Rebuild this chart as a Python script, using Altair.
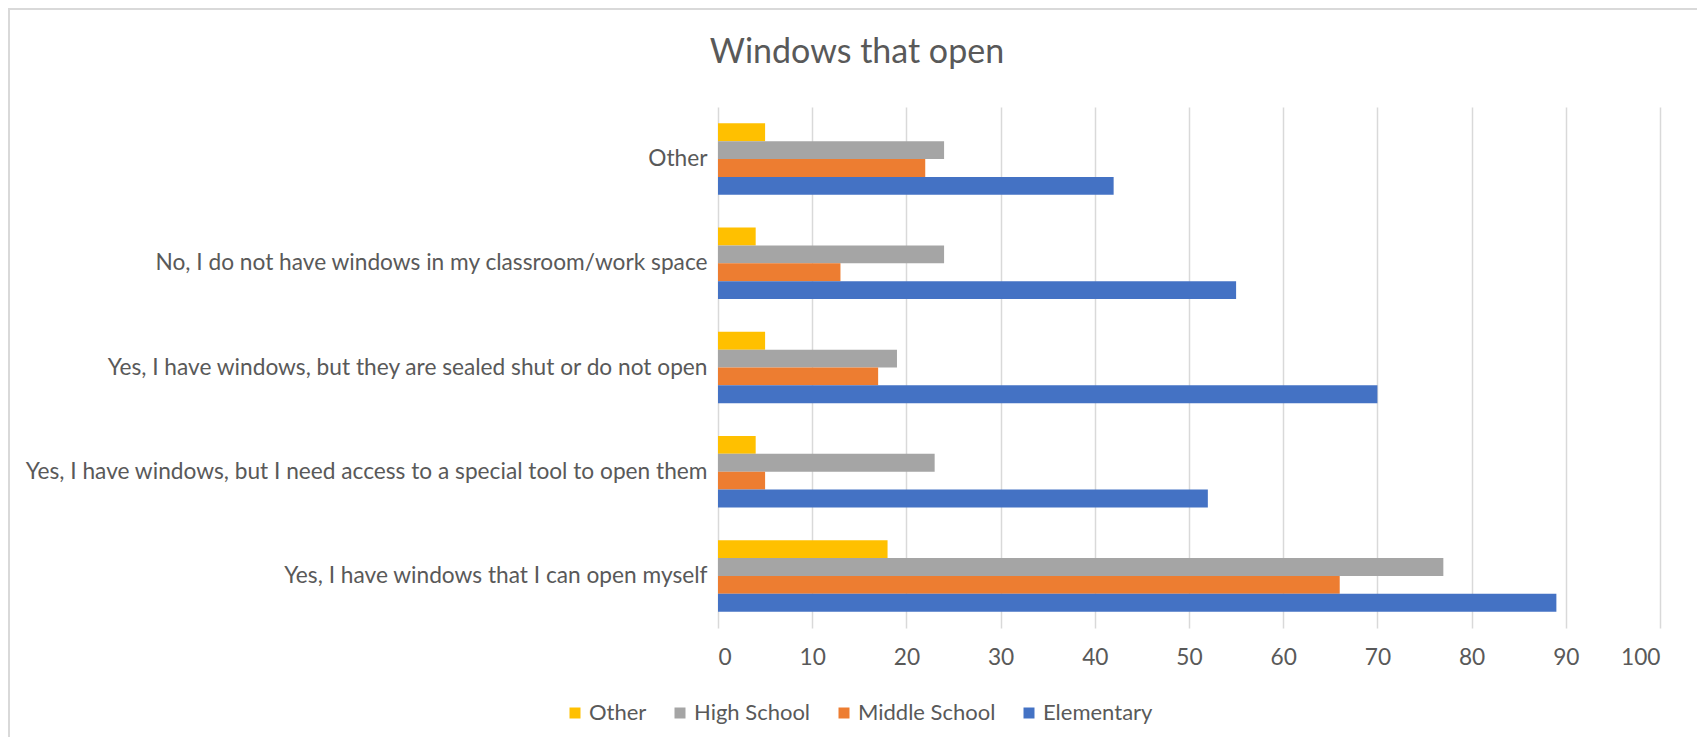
import altair as alt
import pandas as pd

categories = [
    "Other",
    "No, I do not have windows in my classroom/work space",
    "Yes, I have windows, but they are sealed shut or do not open",
    "Yes, I have windows, but I need access to a special tool to open them",
    "Yes, I have windows that I can open myself",
]
series = ["Other", "High School", "Middle School", "Elementary"]
colors = ["#FFC000", "#A5A5A5", "#ED7D31", "#4472C4"]

other_vals = [5, 4, 5, 4, 18]
high_vals = [24, 24, 19, 23, 77]
middle_vals = [22, 13, 17, 5, 66]
elem_vals = [42, 55, 70, 52, 89]

rows = []
for s, vals in zip(series, [other_vals, high_vals, middle_vals, elem_vals]):
    for c, v in zip(categories, vals):
        rows.append({"category": c, "series": s, "value": v})
df = pd.DataFrame(rows)

FONT = "Lato"
TXT = "#595959"
LBL = 22.7

bars = alt.Chart(df).mark_bar().encode(
    y=alt.Y(
        "category:N",
        sort=categories,
        scale=alt.Scale(paddingInner=0.314, paddingOuter=0.157),
        axis=alt.Axis(
            title=None, ticks=False, domain=False, labelFont=FONT,
            labelFontSize=LBL, labelColor=TXT, labelPadding=11, labelLimit=0,
        ),
    ),
    yOffset=alt.YOffset("series:N", sort=series, scale=alt.Scale(paddingInner=0, paddingOuter=0)),
    x=alt.X(
        "value:Q",
        scale=alt.Scale(domain=[0, 100], nice=False),
        axis=alt.Axis(
            title=None, values=list(range(0, 101, 10)), ticks=False, domain=False,
            grid=True, gridColor="#D9D9D9", gridWidth=1.5, labelFont=FONT,
            labelFontSize=LBL, labelColor=TXT, labelPadding=18,
        ),
    ),
    color=alt.Color(
        "series:N",
        sort=series,
        scale=alt.Scale(domain=series, range=colors),
        legend=alt.Legend(
            title=None, orient="none", direction="horizontal", legendX=-154,
            legendY=595, symbolType="square", symbolSize=121, symbolStrokeWidth=0,
            labelFont=FONT, labelFontSize=22, labelColor=TXT, labelOffset=3,
            columnPadding=22, padding=0,
        ),
    ),
)

frame_df = pd.DataFrame({"k": [0]})
left_border = alt.Chart(frame_df).mark_rule(color="#D9D9D9", strokeWidth=2).encode(
    x=alt.value(-709), y=alt.value(-98), y2=alt.value(630)
)
top_border = alt.Chart(frame_df).mark_rule(color="#D9D9D9", strokeWidth=2).encode(
    x=alt.value(-710), x2=alt.value(979), y=alt.value(-98)
)

chart = alt.layer(bars, left_border, top_border).properties(
    width=942,
    height=521,
    title=alt.TitleParams(
        "Windows that open", font=FONT, fontSize=34, fontWeight="normal",
        color=TXT, anchor="middle", frame="group", dx=-332, dy=89,
        baseline="alphabetic", offset=0,
    ),
    autosize=alt.AutoSizeParams(type="none"),
    padding={"left": 710, "top": 99, "right": 37, "bottom": 109},
).configure_view(stroke=None)

chart.save("out.html", embed_options={"renderer": "svg", "actions": False})
